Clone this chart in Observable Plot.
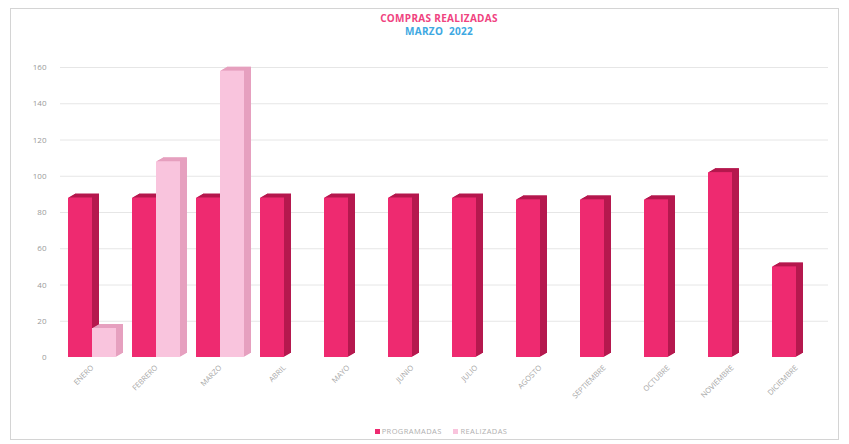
<!DOCTYPE html>
<html>
<head>
<meta charset="utf-8">
<script src="https://cdn.jsdelivr.net/npm/d3@7"></script>
<script src="https://cdn.jsdelivr.net/npm/@observablehq/plot@0.6"></script>
<style>
  body { margin: 0; background: #fff; font-family: "Open Sans", "DejaVu Sans", sans-serif; }
  #wrap { position: relative; width: 849px; height: 444px; overflow: hidden; }
  #frame { position: absolute; left: 10px; top: 8px; width: 829px; height: 432px; border: 1px solid #d4d4d4; box-sizing: border-box; }
  #title { position: absolute; top: 12px; left: 0; width: 878px; text-align: center; font-weight: 700; font-size: 10px; line-height: 13px; letter-spacing: 0.3px; }
  #chart { position: absolute; top: 40px; left: 0; }
  #legend { position: absolute; top: 426px; left: 0; width: 882px; text-align: center; font-size: 7.5px; color: #b0b0b0; letter-spacing: 0.4px; }
  .sw { display: inline-block; width: 5px; height: 5px; margin-right: 2px; vertical-align: 0px; }
</style>
</head>
<body>
<div id="wrap">
  <div id="frame"></div>
  <div id="title"><div style="color:#f0437f">COMPRAS REALIZADAS</div><div style="color:#3ea8e2">MARZO&nbsp; 2022</div></div>
  <div id="chart"></div>
  <div id="legend"><span class="sw" style="background:#ee2a70"></span>PROGRAMADAS &nbsp;&nbsp;&nbsp; <span class="sw" style="background:#f9c4dd"></span>REALIZADAS</div>
</div>
<script>
const months = ["ENERO","FEBRERO","MARZO","ABRIL","MAYO","JUNIO","JULIO","AGOSTO","SEPTIEMBRE","OCTUBRE","NOVIEMBRE","DICIEMBRE"];
const programadas = [88, 88, 88, 88, 88, 88, 88, 87, 87, 87, 102, 50];
const realizadas = [16, 108, 158, null, null, null, null, null, null, null, null, null];
const yTicks = [0, 20, 40, 60, 80, 100, 120, 140, 160];

const prog = months.map((m, i) => ({month: m, value: programadas[i]}));
const real = months.map((m, i) => ({month: m, value: realizadas[i]})).filter(d => d.value != null);

// pseudo-3D extrusion: layers offset along depth direction
const layers = d3.range(7, 0, -1);
function extruded(data, insets, sideFill, topFill, frontFill) {
  const marks = [];
  for (const k of layers) {
    marks.push(Plot.barY(data, {x: "month", y: "value", ...insets, dx: k, dy: -k * 4 / 7, fill: sideFill}));
  }
  // top face tint (thin strip above front)
  for (const k of layers) {
    marks.push(Plot.barY(data, {x: "month", y1: d => d.value, y2: d => d.value, ...insets, dx: k - 1, dy: -k * 4 / 7, stroke: topFill, strokeWidth: 1, fill: "none", insetLeft: (insets.insetLeft || 0) + 1, insetRight: (insets.insetRight || 0) + 1}));
  }
  marks.push(Plot.barY(data, {x: "month", y: "value", ...insets, fill: frontFill}));
  return marks;
}

const chart = Plot.plot({
  width: 849,
  height: 375,
  marginLeft: 60,
  marginRight: 21,
  marginTop: 27,
  marginBottom: 58,
  style: {fontFamily: "'Open Sans', 'DejaVu Sans', sans-serif", background: "transparent"},
  x: {domain: months, paddingInner: 0.25, paddingOuter: 0.125, label: null},
  y: {domain: [0, 160], label: null},
  marks: [
    Plot.ruleY(yTicks.slice(1), {stroke: "#e6e6e6", strokeWidth: 1}),
    Plot.axisY({ticks: yTicks, tickSize: 0, tickPadding: 14, fontSize: 8, fill: "#9a9a9a", label: null}),
    Plot.axisX({tickSize: 0, tickPadding: 9, tickRotate: -45, fontSize: 7.5, fill: "#a8a8a8", label: null}),
    ...extruded(prog, {insetRight: 24}, "#b5184e", "#e0266a", "#ee2a70"),
    ...extruded(real, {insetLeft: 24}, "#e6a0bf", "#f4b6d2", "#f9c4dd")
  ]
});
document.getElementById("chart").appendChild(chart);
</script>
</body>
</html>
